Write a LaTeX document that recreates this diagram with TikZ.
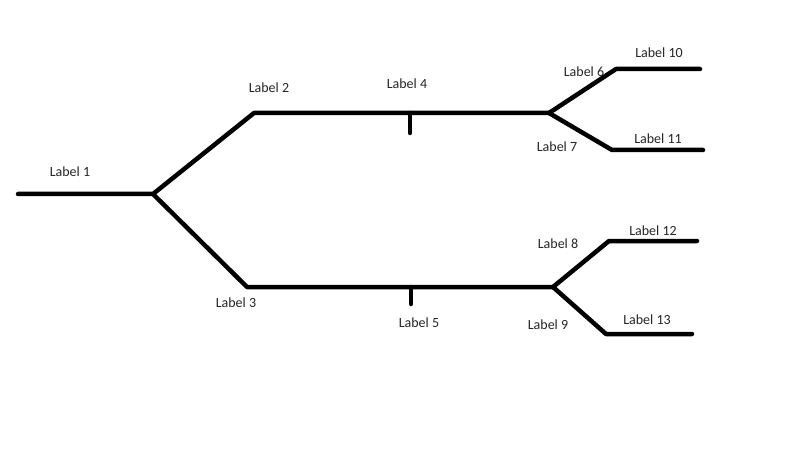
\documentclass[tikz,border=0pt]{standalone}
\usepackage{fontspec}
\setmainfont{Carlito}
\tikzset{
  branch/.style={line width=4.5pt, line cap=round, line join=round, black},
  lbl/.style={font=\fontsize{14}{16}\selectfont, text=black!85, inner sep=0pt}
}
\begin{document}
\begin{tikzpicture}[x=1pt,y=-1pt]
\useasboundingbox[fill=white] (0,0) rectangle (800,449);
% points
\coordinate (s) at (18,194);
\coordinate (j1) at (153,194);
\coordinate (u1) at (254,113);
\coordinate (u2) at (549,113);
\coordinate (ut) at (410,113);
\coordinate (utb) at (410,133);
\coordinate (a6) at (616,69);
\coordinate (a10) at (700,69);
\coordinate (a7) at (612,150);
\coordinate (a11) at (703,150);
\coordinate (l1) at (247,287);
\coordinate (l2) at (553,287);
\coordinate (lt) at (411,287);
\coordinate (ltb) at (411,304);
\coordinate (b8) at (609,241);
\coordinate (b12) at (697,241);
\coordinate (b9) at (606,334);
\coordinate (b13) at (692,334);
% lines
\draw[branch] (s) -- (j1) -- (u1) -- (u2);
\draw[branch] (j1) -- (l1) -- (l2);
\draw[branch] (ut) -- (utb);
\draw[branch] (lt) -- (ltb);
\draw[branch] (u2) -- (a6) -- (a10);
\draw[branch] (u2) -- (a7) -- (a11);
\draw[branch] (l2) -- (b8) -- (b12);
\draw[branch] (l2) -- (b9) -- (b13);
% labels
\node[lbl] (t1) at (70,172) {Label 1};
\node[lbl] (t2) at (269,88) {Label 2};
\node[lbl] (t3) at (236,303) {Label 3};
\node[lbl] (t4) at (407,84) {Label 4};
\node[lbl] (t5) at (419,323) {Label 5};
\node[lbl] (t6) at (584,72) {Label 6};
\node[lbl] (t7) at (557,147) {Label 7};
\node[lbl] (t8) at (558,244) {Label 8};
\node[lbl] (t9) at (548,325) {Label 9};
\node[lbl] (t10) at (659,53) {Label 10};
\node[lbl] (t11) at (658,139) {Label 11};
\node[lbl] (t12) at (653,231) {Label 12};
\node[lbl] (t13) at (647,320) {Label 13};
\end{tikzpicture}
\end{document}
